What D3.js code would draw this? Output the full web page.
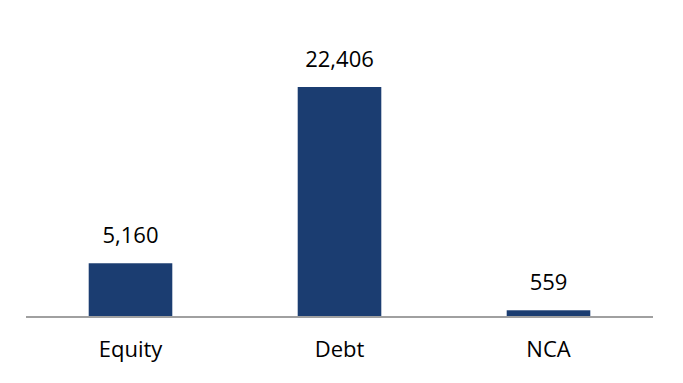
<!DOCTYPE html>
<meta charset="utf-8">
<style>
body { margin: 0; background: #fff; }
text { font-family: "Open Sans", sans-serif; fill: #000; }
</style>
<svg width="683" height="383"></svg>
<script src="https://d3js.org/d3.v7.min.js"></script>
<script>
const categories = ["Equity", "Debt", "NCA"]
const values = [5160, 22406, 559]

const svg = d3.select("svg")
const plotLeft = 26, plotRight = 653, baseline = 316, plotTop = 87

const x = d3.scaleBand()
    .domain(categories)
    .range([plotLeft, plotRight])
    .paddingInner(0.6)
    .paddingOuter(0.3)

const y = d3.scaleLinear()
    .domain([0, d3.max(values)])
    .range([baseline, plotTop])

const data = categories.map((c, i) => ({cat: c, value: values[i]}))

// bars
svg.selectAll(".bar")
    .data(data)
  .enter().append("rect")
    .attr("class", "bar")
    .attr("x", d => x(d.cat))
    .attr("y", d => y(d.value))
    .attr("width", x.bandwidth())
    .attr("height", d => baseline - y(d.value))
    .attr("fill", "#1b3d71")

// axis line
svg.append("line")
    .attr("x1", plotLeft)
    .attr("x2", plotRight)
    .attr("y1", baseline + 1)
    .attr("y2", baseline + 1)
    .attr("stroke", "#a0a0a0")
    .attr("stroke-width", 2)

// value labels
svg.selectAll(".value")
    .data(data)
  .enter().append("text")
    .attr("class", "value")
    .attr("x", d => x(d.cat) + x.bandwidth() / 2)
    .attr("y", d => y(d.value) - 20)
    .attr("text-anchor", "middle")
    .style("font-size", "22px")
    .text(d => d3.format(",")(d.value))

// category labels
svg.selectAll(".cat")
    .data(data)
  .enter().append("text")
    .attr("class", "cat")
    .attr("x", d => x(d.cat) + x.bandwidth() / 2)
    .attr("y", 357)
    .attr("text-anchor", "middle")
    .style("font-size", "22px")
    .text(d => d.cat)
</script>
